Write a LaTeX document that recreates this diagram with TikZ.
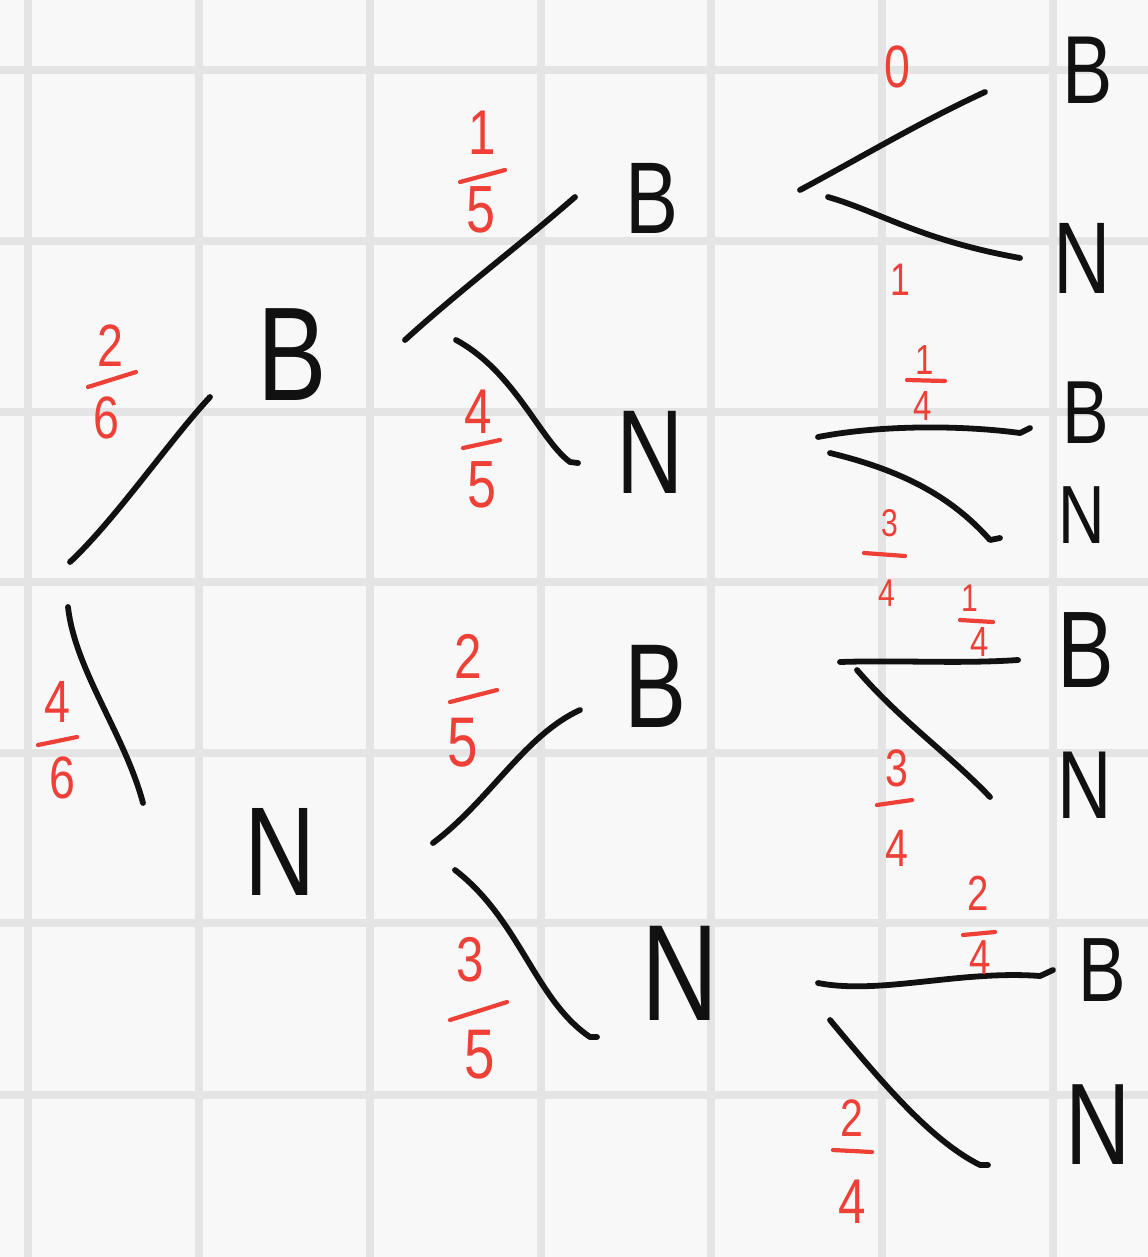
\documentclass[tikz,border=0pt]{standalone}
\usepackage{fontspec}
\setmainfont{Liberation Sans}
\newfontfamily\handfont[FakeStretch=0.78]{Liberation Sans}
\definecolor{paper}{HTML}{F8F8F8}
\definecolor{gridc}{HTML}{E4E4E4}
\definecolor{ink}{HTML}{111111}
\definecolor{redink}{HTML}{EE4036}
\tikzset{
  gridline/.style={draw=gridc, line width=5pt},
  branch/.style={draw=ink, line width=3.3pt, line cap=round, line join=round},
  lab/.style={text=ink, inner sep=0pt, font=\handfont\fontsize{#1}{#1}\selectfont},
  lab/.default=60,
  dig/.style={text=redink, inner sep=0pt, font=\handfont\fontsize{#1}{#1}\selectfont},
  dig/.default=32,
  fbar/.style={draw=redink, line width=2.4pt, line cap=round},
}
\begin{document}
\begin{tikzpicture}[x=0.02cm, y=-0.02cm]
\fill[paper] (0,0) rectangle (1148,1257);
\useasboundingbox (0,0) rectangle (1148,1257);
\foreach \g in {28,199,370,541,711,882,1053} \draw[gridline] (\g,0) -- (\g,1257);
\foreach \g in {70,241,412,582,753,923,1095} \draw[gridline] (0,\g) -- (1148,\g);

% ---------- letters ----------
\node[lab=76] (B1) at (292,355) {B};
\node[lab=72] (N1) at (280,852) {N};
\node[lab=58] (B11) at (652,198) {B};
\node[lab=68] (N12) at (650,452) {N};
\node[lab=68] (B21) at (656,686) {B};
\node[lab=78] (N22) at (680,973) {N};
\node[lab=55] (B111) at (1088,70) {B};
\node[lab=58] (N112) at (1082,258) {N};
\node[lab=51] (B121) at (1086,413) {B};
\node[lab=47] (N122) at (1082,515) {N};
\node[lab=62] (B211) at (1086,650) {B};
\node[lab=55] (N212) at (1085,785) {N};
\node[lab=52] (B221) at (1102,970) {B};
\node[lab=66] (N222) at (1098,1125) {N};

% ---------- branch end points ----------
\coordinate (r0a) at (70,562);   \coordinate (r0b) at (210,397);
\coordinate (r1a) at (68,607);   \coordinate (r1b) at (143,803);
\coordinate (p1a) at (405,340);  \coordinate (p1b) at (575,197);
\coordinate (p2a) at (456,340);  \coordinate (p2b) at (578,463);
\coordinate (q1a) at (433,843);  \coordinate (q1b) at (580,710);
\coordinate (q2a) at (455,870);  \coordinate (q2b) at (597,1037);
\coordinate (a1a) at (800,190);  \coordinate (a1b) at (985,92);
\coordinate (a2a) at (828,197);  \coordinate (a2b) at (1020,258);
\coordinate (b1a) at (818,437);  \coordinate (b1b) at (1030,428);
\coordinate (b2a) at (830,453);  \coordinate (b2b) at (1000,538);
\coordinate (c1a) at (840,662);  \coordinate (c1b) at (1018,660);
\coordinate (c2a) at (857,670);  \coordinate (c2b) at (990,797);
\coordinate (d1a) at (818,983);  \coordinate (d1b) at (1053,970);
\coordinate (d2a) at (830,1020); \coordinate (d2b) at (988,1165);

% ---------- branches ----------
\draw[branch] (r0a) .. controls (115,520) and (170,440) .. (r0b);
\draw[branch] (r1a) .. controls (75,670) and (125,735) .. (r1b);
\draw[branch] (p1a) .. controls (460,290) and (520,245) .. (p1b);
\draw[branch] (p2a) .. controls (515,372) and (540,440) .. (570,462) -- (p2b);
\draw[branch] (q1a) .. controls (490,800) and (525,735) .. (q1b);
\draw[branch] (q2a) .. controls (520,920) and (535,1000) .. (590,1037) -- (q2b);
\draw[branch] (a1a) .. controls (860,158) and (920,122) .. (a1b);
\draw[branch] (a2a) .. controls (880,212) and (920,240) .. (a2b);
\draw[branch] (b1a) .. controls (880,425) and (960,425) .. (1020,433) -- (b1b);
\draw[branch] (b2a) .. controls (900,470) and (950,495) .. (990,540) -- (b2b);
\draw[branch] (c1a) .. controls (900,660) and (960,664) .. (c1b);
\draw[branch] (c2a) .. controls (900,720) and (950,755) .. (c2b);
\draw[branch] (d1a) .. controls (880,995) and (960,970) .. (1040,976) -- (d1b);
\draw[branch] (d2a) .. controls (880,1080) and (930,1140) .. (980,1165) -- (d2b);

% ---------- probabilities ----------
% 2/6
\node[dig=34] (f1n) at (110,346) {2}; \node[dig=34] (f1d) at (106,418) {6};
\draw[fbar] (88,387) -- (136,372);
% 4/6
\node[dig=34] (f2n) at (57,702) {4}; \node[dig=34] (f2d) at (62,778) {6};
\draw[fbar] (38,745) -- (77,737);
% 1/5
\node[dig=36] (f3n) at (482,133) {1}; \node[dig=38] (f3d) at (481,210) {5};
\draw[fbar] (460,182) -- (505,170);
% 4/5
\node[dig=36] (f4n) at (478,412) {4}; \node[dig=38] (f4d) at (482,485) {5};
\draw[fbar] (463,448) -- (500,440);
% 2/5
\node[dig=36] (f5n) at (468,656) {2}; \node[dig=40] (f5d) at (463,743) {5};
\draw[fbar] (450,702) -- (497,690);
% 3/5
\node[dig=36] (f6n) at (470,960) {3}; \node[dig=40] (f6d) at (480,1055) {5};
\draw[fbar] (450,1020) -- (507,1002);
% 0 and 1
\node[dig=34] (z0) at (897,67) {0};
\node[dig=26] (z1) at (900,280) {1};
% 1/4 (upper)
\node[dig=24] (f7n) at (925,360) {1}; \node[dig=24] (f7d) at (923,406) {4};
\draw[fbar] (907,380) -- (945,381);
% 3/4
\node[dig=22] (f8n) at (890,523) {3}; \node[dig=22] (f8d) at (887,593) {4};
\draw[fbar] (864,553) -- (905,556);
% 1/4 (lower)
\node[dig=22] (f9n) at (970,598) {1}; \node[dig=24] (f9d) at (980,642) {4};
\draw[fbar] (960,620) -- (993,622);
% 3/4
\node[dig=30] (f10n) at (897,768) {3}; \node[dig=30] (f10d) at (897,848) {4};
\draw[fbar] (877,805) -- (912,800);
% 2/4
\node[dig=28] (f11n) at (978,893) {2}; \node[dig=28] (f11d) at (980,958) {4};
\draw[fbar] (963,935) -- (995,932);
% 2/4
\node[dig=30] (f12n) at (852,1118) {2}; \node[dig=36] (f12d) at (852,1202) {4};
\draw[fbar] (833,1150) -- (872,1152);
\end{tikzpicture}
\end{document}
